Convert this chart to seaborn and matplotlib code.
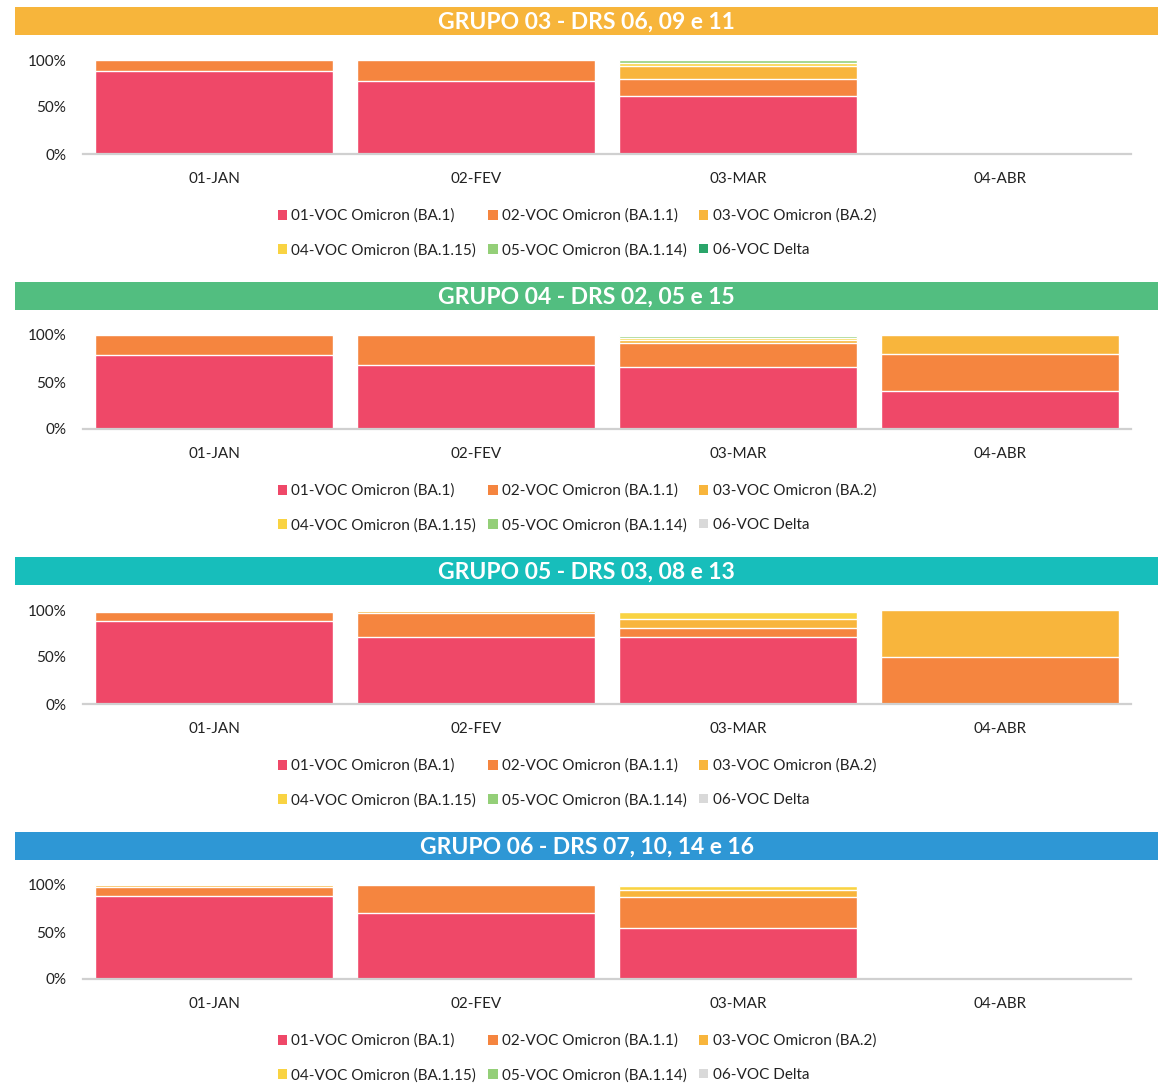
import numpy as np
import pandas as pd
import matplotlib
matplotlib.use("Agg")
import matplotlib.pyplot as plt
import seaborn as sns
from matplotlib.patches import Patch

# =========================================================
# Dados (% por linhagem e mês)
# =========================================================
meses = ["01-JAN", "02-FEV", "03-MAR", "04-ABR"]
linhagens = ["01-VOC Omicron (BA.1)", "02-VOC Omicron (BA.1.1)", "03-VOC Omicron (BA.2)",
             "04-VOC Omicron (BA.1.15)", "05-VOC Omicron (BA.1.14)", "06-VOC Delta"]

titulos = ["GRUPO 03 - DRS 06, 09 e 11", "GRUPO 04 - DRS 02, 05 e 15",
           "GRUPO 05 - DRS 03, 08 e 13", "GRUPO 06 - DRS 07, 10, 14 e 16"]
cores_titulo = ["#F7B53B", "#52BE80", "#17BEBB", "#2E97D5"]

# linhas = linhagens, colunas = meses
grupo03 = [[88, 78, 62, 0], [12, 22, 18, 0], [0, 0, 14, 0],
           [0, 0, 3, 0], [0, 0, 3, 0], [0, 0, 0, 0]]
grupo04 = [[79, 68, 66, 40], [21, 32, 25, 40], [0, 0, 4, 20],
           [0, 0, 2, 0], [0, 0, 2, 0], [0, 0, 1, 0]]
grupo05 = [[88, 71, 71, 0], [10, 26, 10, 50], [1, 2, 9, 50],
           [1, 1, 8, 0], [0, 0, 1, 0], [0, 0, 1, 0]]
grupo06 = [[88, 70, 54, 0], [10, 30, 33, 0], [2, 0, 8, 0],
           [0, 0, 4, 0], [0, 0, 1, 0], [0, 0, 0, 0]]
grupos = [grupo03, grupo04, grupo05, grupo06]

cores = ["#EF4868", "#F5853F", "#F8B53C", "#F9D342", "#94CF78"]
cor_delta = ["#2AA56A", "#D9D9D9", "#D9D9D9", "#D9D9D9"]

# =========================================================
# Figura
# =========================================================
sns.set_style("white")
plt.rcParams["font.family"] = ["Lato", "DejaVu Sans"]

W, H = 1165, 1087
fig = plt.figure(figsize=(W / 100, H / 100), dpi=100)


def px(x0, y0, x1, y1):
    # converte caixa em pixels (origem no topo) para coordenadas da figura
    return [x0 / W, 1 - y1 / H, (x1 - x0) / W, (y1 - y0) / H]


for i, dados in enumerate(grupos):
    dy = i * 275

    # faixa do título
    axt = fig.add_axes(px(15, 7 + dy, 1158, 35 + dy))
    axt.set_facecolor(cores_titulo[i])
    axt.set_xticks([])
    axt.set_yticks([])
    for s in axt.spines.values():
        s.set_visible(False)
    axt.text(0.5, 0.47, titulos[i], color="white", fontsize=16.5, fontweight="bold",
             ha="center", va="center", transform=axt.transAxes)

    # barras empilhadas (100%)
    ax = fig.add_axes(px(83, 60 + dy, 1131, 154 + dy))
    arr = np.array(dados) / 100
    cum = np.cumsum(arr, axis=0)
    pal = cores + [cor_delta[i]]
    for k in range(len(linhagens) - 1, -1, -1):
        df = pd.DataFrame({"mes": meses, "valor": cum[k]})
        sns.barplot(data=df, x="mes", y="valor", color=pal[k], width=0.905,
                    edgecolor="white", linewidth=1.0, saturation=1, ax=ax)

    ax.set_xlim(-0.5, 3.5)
    ax.set_ylim(0, 1)
    ax.set_yticks([0, 0.5, 1])
    ax.set_yticklabels(["0%", "50%", "100%"])
    ax.set_xlabel("")
    ax.set_ylabel("")
    ax.tick_params(axis="y", length=0, pad=12, labelsize=11, colors="#222222")
    ax.tick_params(axis="x", length=0, pad=13, labelsize=11, colors="#222222")
    for s in ["top", "right", "left"]:
        ax.spines[s].set_visible(False)
    ax.spines["bottom"].set_color("#D0D0D0")
    ax.spines["bottom"].set_linewidth(1.6)

    # legenda (ordem por linha: 3 por linha)
    ordem = [0, 3, 1, 4, 2, 5]
    handles = [Patch(facecolor=pal[k], edgecolor="none", label=linhagens[k])
               for k in ordem]
    fig.legend(handles=handles, ncol=3, frameon=False, fontsize=11,
               loc="center", bbox_to_anchor=(577 / W, 1 - (233 + dy) / H),
               handlelength=0.6, handleheight=0.6, handletextpad=0.3,
               columnspacing=0.8, labelspacing=1.3, labelcolor="#222222")

fig.savefig("out.png", dpi=100)
